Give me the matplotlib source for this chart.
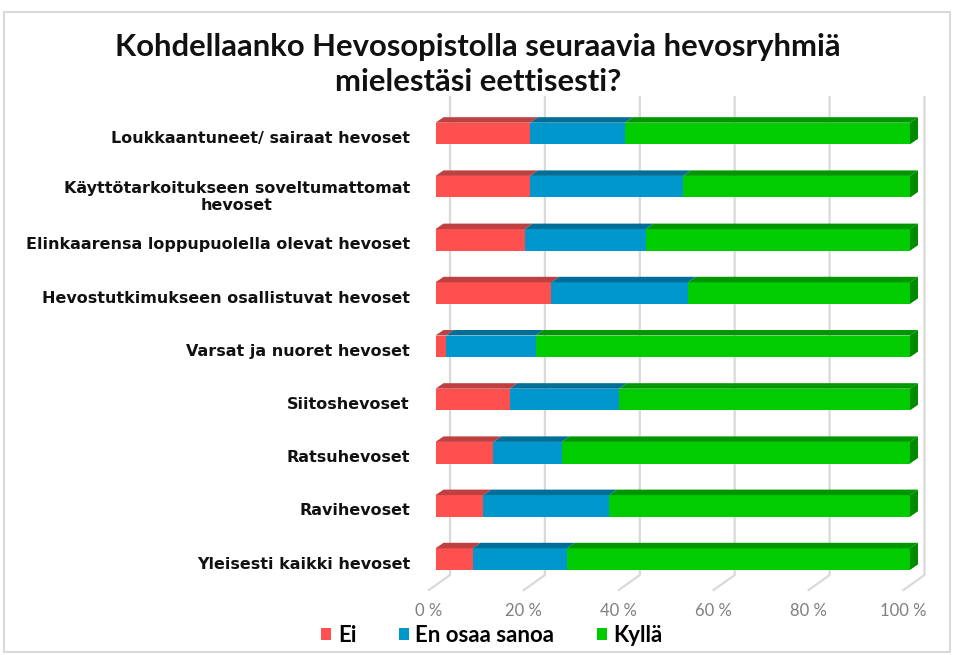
import matplotlib
matplotlib.use("Agg")
import matplotlib.pyplot as plt
from matplotlib.patches import Rectangle, Polygon, Patch

# Survey: share of answers per horse group (%), top row first
categories = [
    "Loukkaantuneet/ sairaat hevoset",
    "Käyttötarkoitukseen soveltumattomat\nhevoset",
    "Elinkaarensa loppupuolella olevat hevoset",
    "Hevostutkimukseen osallistuvat hevoset",
    "Varsat ja nuoret hevoset",
    "Siitoshevoset",
    "Ratsuhevoset",
    "Ravihevoset",
    "Yleisesti kaikki hevoset",
]
ei = [19.9, 19.9, 18.8, 24.4, 2.2, 15.6, 12.2, 10.1, 7.8]
en_osaa = [20.0, 32.3, 25.5, 28.8, 18.9, 23.1, 14.4, 26.5, 19.9]
kylla = [60.1, 47.8, 55.7, 46.8, 78.9, 61.3, 73.4, 63.4, 72.3]
series_names = ["Ei", "En osaa sanoa", "Kyllä"]
ticks = [0, 20, 40, 60, 80, 100]

# front, top and side colours of the fake 3D bars
FRONT = ["#FF5050", "#0098CC", "#00CC00"]
TOP = ["#BF4040", "#006E96", "#009600"]
SIDE = "#008A00"

W, H = 956, 655
fig = plt.figure(figsize=(W / 100, H / 100), dpi=100)

# axes spans the front plane of the bars: x 0..100 %, rows -0.5..8.5
ROW_PX = 53.2
PCT_PX = 474.5 / 100
top_px, bot_px = 133.5 - ROW_PX / 2, 133.5 + 8.5 * ROW_PX
ax = fig.add_axes([435.5 / W, 1 - bot_px / H, 474.5 / W, (bot_px - top_px) / H])
ax.set_xlim(0, 100)
ax.set_ylim(8.5, -0.5)
ax.set_axis_off()


def px_x(p):
    return p / PCT_PX


def px_y(p):
    return p / ROW_PX


bar_h = px_y(21.6)
ddx, ddy = px_x(8), px_y(5.5)

# back wall + floor gridlines
back_dx, floor_dx = px_x(14.5), px_x(-6.5)
y_wall_top, y_wall_bot, y_floor = px_y(97 - 133.5), px_y(575 - 133.5), px_y(590 - 133.5)
for t in ticks:
    ax.plot([t + back_dx, t + back_dx, t + floor_dx],
            [y_wall_top, y_wall_bot, y_floor],
            color="#D9D9D9", lw=1.6, clip_on=False, zorder=0)
    ax.text(t + floor_dx, px_y(611 - 133.5), f"{t} %", ha="center", va="center",
            fontsize=12, color="#7F7F7F", family="Lato", clip_on=False)

for i, vals in enumerate(zip(ei, en_osaa, kylla)):
    left = 0
    top = i - bar_h / 2
    bot = i + bar_h / 2
    for k, v in enumerate(vals):
        ax.add_patch(Rectangle((left, top), v, bar_h, facecolor=FRONT[k],
                               edgecolor="none", zorder=3, clip_on=False))
        ax.add_patch(Polygon([(left, top), (left + v, top),
                              (left + v + ddx, top - ddy), (left + ddx, top - ddy)],
                             closed=True, facecolor=TOP[k], edgecolor="none",
                             zorder=3, clip_on=False))
        left += v
    ax.add_patch(Polygon([(left, top), (left + ddx, top - ddy),
                          (left + ddx, bot - ddy), (left, bot)],
                         closed=True, facecolor=SIDE, edgecolor="none",
                         zorder=3, clip_on=False))

    lab = categories[i]
    dy = px_y(10) if "\n" in lab else px_y(5)
    ax.text(px_x(410 - 435.5), i + dy, lab, ha="right", va="center",
            multialignment="center", fontsize=11.5, fontweight="bold",
            color="#111111", family="DejaVu Sans", linespacing=1.15,
            clip_on=False)

fig.text(478 / W, 1 - 64.5 / H,
         "Kohdellaanko Hevosopistolla seuraavia hevosryhmiä\nmielestäsi eettisesti?",
         ha="center", va="center", fontsize=22.3, fontweight="bold",
         family="Lato", linespacing=1.3, color="#111111")

handles = [Patch(facecolor=c, edgecolor="none") for c in FRONT]
fig.legend(handles, series_names, loc="center", ncol=3,
           bbox_to_anchor=(492 / W, 1 - 635 / H), frameon=False,
           prop={"family": "Lato", "weight": "bold", "size": 16},
           handlelength=0.45, handleheight=0.45, handletextpad=0.3,
           columnspacing=1.9)

# outer chart frame
fig.patches.append(Rectangle((4 / W, 1 - 652 / H), 946 / W, 640 / H,
                             transform=fig.transFigure, fill=False,
                             edgecolor="#D9D9D9", lw=1.5))

fig.savefig("out.png", dpi=100)
